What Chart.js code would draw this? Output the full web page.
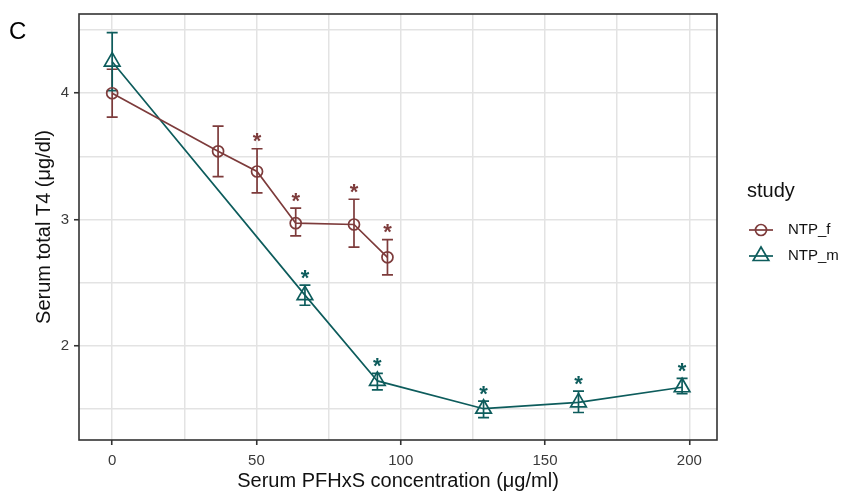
<!DOCTYPE html>
<html>
<head>
<meta charset="utf-8">
<script src="https://cdn.jsdelivr.net/npm/chart.js@4"></script>
<style>
  body { margin: 0; background: #fff; }
  canvas { display: block; }
</style>
</head>
<body>
<canvas id="chart" width="849" height="493"></canvas>
<script>
// values
const doseF = [0, 36.7, 50.2, 63.6, 83.8, 95.4];
const t4F = [4.00, 3.54, 3.38, 2.97, 2.96, 2.70];
const lowF = [3.81, 3.34, 3.21, 2.87, 2.78, 2.56];
const highF = [4.19, 3.74, 3.56, 3.09, 3.16, 2.84];
const starF = [false, false, true, true, true, true];

const doseM = [0, 66.8, 91.9, 128.7, 161.6, 197.5];
const t4M = [4.25, 2.40, 1.72, 1.50, 1.55, 1.67];
const lowM = [4.02, 2.32, 1.65, 1.43, 1.47, 1.62];
const highM = [4.48, 2.48, 1.78, 1.56, 1.64, 1.74];
const starM = [false, true, true, true, true, true];

const xTickLabels = [0, 50, 100, 150, 200];
const yTickLabels = [2, 3, 4];
const seriesNames = ['NTP_f', 'NTP_m'];

const colF = '#7d3b3b';
const colM = '#0d5c5c';
const FONT = "'Liberation Sans', Arial, sans-serif";

const series = [
  { x: doseF, y: t4F, lo: lowF, hi: highF, star: starF, color: colF },
  { x: doseM, y: t4M, lo: lowM, hi: highM, star: starM, color: colM }
];

function toPoints(xs, ys) {
  return xs.map((x, i) => ({ x: x, y: ys[i] }));
}

const extras = {
  id: 'extras',
  beforeDatasetsDraw(chart) {
    const ctx = chart.ctx;
    const xs = chart.scales.x, ys = chart.scales.y;
    ctx.save();
    series.forEach(s => {
      ctx.strokeStyle = s.color;
      ctx.lineWidth = 1.7;
      s.x.forEach((xv, i) => {
        const px = xs.getPixelForValue(xv);
        const pl = ys.getPixelForValue(s.lo[i]);
        const ph = ys.getPixelForValue(s.hi[i]);
        ctx.beginPath();
        ctx.moveTo(px, pl); ctx.lineTo(px, ph);
        ctx.moveTo(px - 5.5, pl); ctx.lineTo(px + 5.5, pl);
        ctx.moveTo(px - 5.5, ph); ctx.lineTo(px + 5.5, ph);
        ctx.stroke();
      });
    });
    ctx.restore();
  },
  afterDraw(chart) {
    const ctx = chart.ctx;
    const a = chart.chartArea;
    const xs = chart.scales.x, ys = chart.scales.y;
    ctx.save();

    // significance stars
    ctx.font = 'bold 22px ' + FONT;
    ctx.textAlign = 'center';
    ctx.textBaseline = 'alphabetic';
    const m = ctx.measureText('*');
    const shift = (m.actualBoundingBoxAscent - m.actualBoundingBoxDescent) / 2;
    series.forEach(s => {
      ctx.fillStyle = s.color;
      s.x.forEach((xv, i) => {
        if (!s.star[i]) return;
        const px = xs.getPixelForValue(xv);
        const py = ys.getPixelForValue(s.hi[i]) - 11;
        ctx.fillText('*', px, py + shift);
      });
    });

    // panel border
    ctx.strokeStyle = '#333';
    ctx.lineWidth = 1.6;
    ctx.strokeRect(a.left, a.top, a.right - a.left, a.bottom - a.top);

    // legend
    ctx.fillStyle = '#111';
    ctx.textAlign = 'left';
    ctx.textBaseline = 'middle';
    ctx.font = '20px ' + FONT;
    ctx.fillText('study', 747, 191);
    ctx.font = '15px ' + FONT;
    const rows = [230, 256];
    series.forEach((s, i) => {
      const y = rows[i];
      ctx.strokeStyle = s.color;
      ctx.lineWidth = 1.7;
      ctx.beginPath();
      ctx.moveTo(749, y); ctx.lineTo(773, y);
      ctx.stroke();
      ctx.beginPath();
      if (i === 0) {
        ctx.arc(761, y, 5.5, 0, Math.PI * 2);
      } else {
        ctx.moveTo(761, y - 9);
        ctx.lineTo(761 + 7.8, y + 4.5);
        ctx.lineTo(761 - 7.8, y + 4.5);
        ctx.closePath();
      }
      ctx.stroke();
      ctx.fillStyle = '#111';
      ctx.fillText(seriesNames[i], 788, y);
    });

    // panel letter
    ctx.font = '24px ' + FONT;
    ctx.fillStyle = '#000';
    ctx.textAlign = 'left';
    ctx.fillText('C', 9, 32);
    ctx.restore();
  }
};

const majorTick = (vals) => (c) => vals.includes(c.tick.value) ? '#333' : 'rgba(0,0,0,0)';

new Chart(document.getElementById('chart'), {
  type: 'line',
  data: {
    datasets: [
      {
        label: seriesNames[0],
        data: toPoints(doseF, t4F),
        borderColor: colF,
        backgroundColor: 'rgba(0,0,0,0)',
        borderWidth: 1.7,
        pointStyle: 'circle',
        pointRadius: 5.5,
        pointBorderWidth: 1.7,
        pointBorderColor: colF,
        pointBackgroundColor: 'rgba(0,0,0,0)',
        tension: 0
      },
      {
        label: seriesNames[1],
        data: toPoints(doseM, t4M),
        borderColor: colM,
        backgroundColor: 'rgba(0,0,0,0)',
        borderWidth: 1.7,
        pointStyle: 'triangle',
        pointRadius: 9,
        pointBorderWidth: 1.7,
        pointBorderColor: colM,
        pointBackgroundColor: 'rgba(0,0,0,0)',
        tension: 0
      }
    ]
  },
  options: {
    responsive: false,
    animation: false,
    devicePixelRatio: 1,
    layout: { padding: { left: 0, right: 132, top: 12, bottom: 0 } },
    plugins: { legend: { display: false }, tooltip: { enabled: false } },
    scales: {
      x: {
        type: 'linear',
        min: -11.5,
        max: 209.6,
        border: { display: false },
        grid: { color: '#e3e3e3', lineWidth: 1.5, tickLength: 5, tickColor: majorTick(xTickLabels), tickWidth: 1.6 },
        ticks: {
          stepSize: 25,
          includeBounds: false,
          autoSkip: false,
          maxRotation: 0,
          padding: 7,
          color: '#3a3a3a',
          font: { family: FONT, size: 15 },
          callback: (v) => xTickLabels.includes(v) ? String(v) : ''
        },
        title: {
          display: true,
          text: 'Serum PFHxS concentration (μg/ml)',
          color: '#111',
          font: { family: FONT, size: 20 },
          padding: { top: 0, bottom: 0 }
        },
        afterFit: (s) => { s.height = 53; }
      },
      y: {
        type: 'linear',
        min: 1.252,
        max: 4.628,
        border: { display: false },
        grid: { color: '#e3e3e3', lineWidth: 1.5, tickLength: 5, tickColor: majorTick(yTickLabels), tickWidth: 1.6 },
        ticks: {
          stepSize: 0.5,
          includeBounds: false,
          autoSkip: false,
          padding: 5,
          color: '#3a3a3a',
          font: { family: FONT, size: 15 },
          callback: (v) => yTickLabels.includes(v) ? String(v) : ''
        },
        title: {
          display: true,
          text: 'Serum total T4 (μg/dl)',
          color: '#111',
          font: { family: FONT, size: 20 },
          padding: { top: 32, bottom: 0 }
        },
        afterFit: (s) => { s.width = 79; }
      }
    }
  },
  plugins: [extras]
});
</script>
</body>
</html>
